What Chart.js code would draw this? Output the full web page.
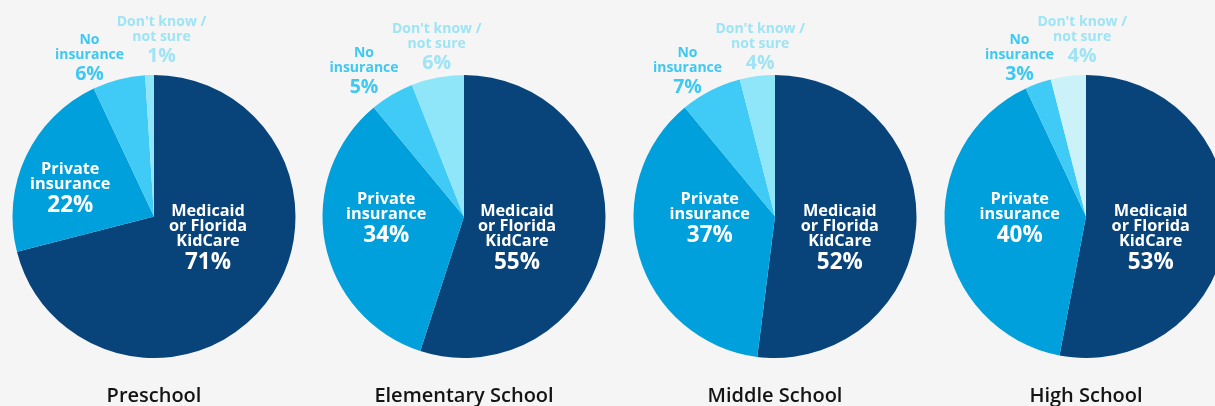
<!DOCTYPE html>
<html>
<head>
<meta charset="utf-8">
<script src="https://cdn.jsdelivr.net/npm/chart.js@4.4.1/dist/chart.umd.min.js"></script>
<style>
  html, body { margin: 0; padding: 0; background: #F5F5F5; width: 1215px; height: 406px; overflow: hidden; }
  .pane { position: absolute; top: 0; width: 310px; height: 406px; }
</style>
</head>
<body>
<div class="pane" id="p0" style="left:-1px"><canvas id="c0"></canvas></div>
<div class="pane" id="p1" style="left:309px"><canvas id="c1"></canvas></div>
<div class="pane" id="p2" style="left:620px"><canvas id="c2"></canvas></div>
<div class="pane" id="p3" style="left:931px"><canvas id="c3"></canvas></div>
<script>
// ---------------- data ----------------
const categories = ["Medicaid or Florida KidCare", "Private insurance", "No insurance", "Don't know / not sure"];
const groups = ["Preschool", "Elementary School", "Middle School", "High School"];
const preschool  = [71, 22, 6, 1];
const elementary = [55, 34, 5, 6];
const middle     = [52, 37, 7, 4];
const high       = [53, 40, 3, 4];
const seriesValues = [preschool, elementary, middle, high];
const labelLines = [["Medicaid", "or Florida", "KidCare"], ["Private", "insurance"], ["No", "insurance"], ["Don't know /", "not sure"]];

// ---------------- styles / layout ----------------
const FONT = "'Open Sans'";
const sliceColors = [
  ["#08437A", "#00A0DC", "#3FCBF6", "#8FE6F8"],
  ["#08437A", "#00A0DC", "#3FCBF6", "#8FE6F8"],
  ["#08437A", "#00A0DC", "#3FCBF6", "#8FE6F8"],
  ["#08437A", "#00A0DC", "#3FCBF6", "#CBF2F8"]
];
const textColors = ["#FFFFFF", "#FFFFFF", "#3FC8F2", "#9DE4F5"];
// label anchor offsets from pie centre: [dx, first-baseline dy]
const labelOffsets = [
  [[54, -0.8], [-83.7, -42.5], [-64.5, -172.5], [7.5, -190.5]],
  [[53, -0.8], [-77.7, -12.5], [-100, -159.2], [-27.3, -183.2]],
  [[64.8, -0.8], [-65.2, -12.5], [-87.5, -159.8], [-14.8, -183.2]],
  [[64.7, -0.8], [-66.3, -12.5], [-66.5, -172.5], [-3.8, -190.5]]
];

const segLabels = {
  id: 'segLabels',
  afterDatasetsDraw(chart, args, opts) {
    const ctx = chart.ctx;
    const meta = chart.getDatasetMeta(0);
    const vals = chart.data.datasets[0].data;
    const offs = opts.offsets;
    ctx.save();
    ctx.textAlign = 'center';
    ctx.textBaseline = 'alphabetic';
    meta.data.forEach((arc, i) => {
      const inside = i < 2;
      const cx = arc.x + offs[i][0];
      let y = arc.y + offs[i][1];
      ctx.fillStyle = textColors[i];
      ctx.font = (inside ? "700 16.3px " : "700 14px ") + FONT;
      const lines = labelLines[i];
      lines.forEach((ln, k) => {
        if (k > 0) y += inside ? 15.3 : 15;
        ctx.fillText(ln, cx, y);
      });
      y += inside ? 23 : 21;
      ctx.font = (inside ? "700 22.5px " : "700 19.5px ") + FONT;
      ctx.fillText(vals[i] + "%", cx, y);
    });
    ctx.restore();
  }
};

seriesValues.forEach((vals, g) => {
  new Chart(document.getElementById('c' + g), {
    type: 'pie',
    data: {
      labels: categories,
      datasets: [{ data: vals, backgroundColor: sliceColors[g], borderWidth: 0 }]
    },
    options: {
      responsive: true,
      maintainAspectRatio: false,
      animation: false,
      layout: { padding: { top: 75, bottom: 0, left: 0, right: 0 } },
      plugins: {
        legend: { display: false },
        tooltip: { enabled: false },
        title: {
          display: true,
          position: 'bottom',
          text: groups[g],
          color: '#141414',
          font: { family: "Open Sans", size: 20, weight: '600', lineHeight: 1 },
          padding: { top: 28, bottom: 0 }
        },
        segLabels: { offsets: labelOffsets[g] }
      }
    },
    plugins: [segLabels]
  });
});
</script>
</body>
</html>
